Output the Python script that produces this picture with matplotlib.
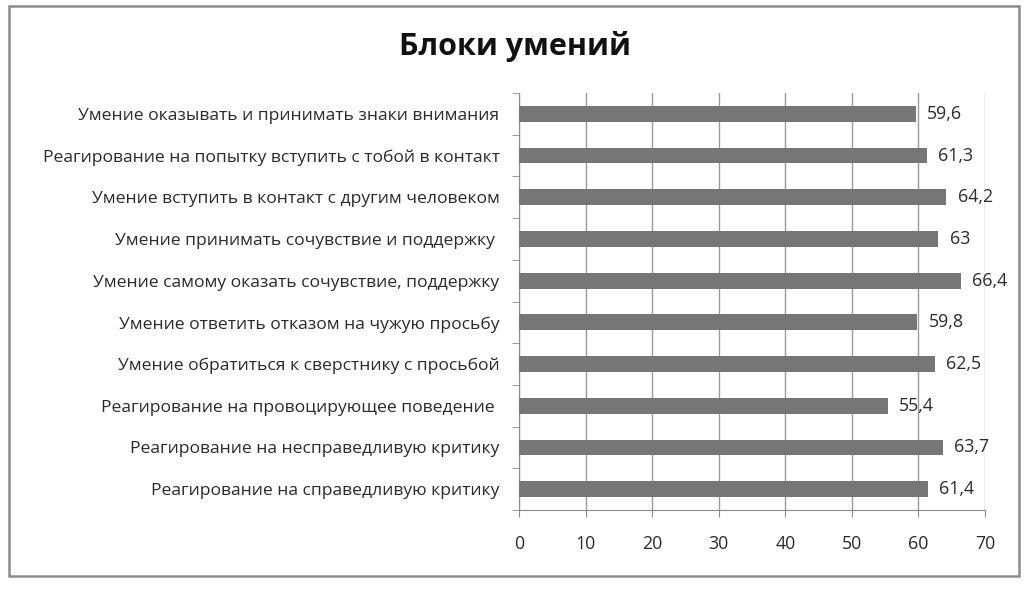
import matplotlib
matplotlib.use("Agg")
import numpy as np
from matplotlib import pyplot as plt
from matplotlib.patches import Rectangle

plt.rcParams['font.family'] = ['Open Sans', 'DejaVu Sans']

# data, top to bottom as in the picture
labels = [
    "Умение оказывать и принимать знаки внимания",
    "Реагирование на попытку вступить с тобой в контакт",
    "Умение вступить в контакт с другим человеком",
    "Умение принимать сочувствие и поддержку ",
    "Умение самому оказать сочувствие, поддержку",
    "Умение ответить отказом на чужую просьбу",
    "Умение обратиться к сверстнику с просьбой",
    "Реагирование на провоцирующее поведение ",
    "Реагирование на несправедливую критику",
    "Реагирование на справедливую критику",
]
values = [59.6, 61.3, 64.2, 63, 66.4, 59.8, 62.5, 55.4, 63.7, 61.4]
xticks = [0, 10, 20, 30, 40, 50, 60, 70]
title = "Блоки умений"

fig = plt.figure(figsize=(10.28, 5.91), dpi=100)
fig.patches.append(Rectangle((0.009, 0.025), 0.982, 0.965, transform=fig.transFigure,
                             fill=False, edgecolor='#8c8c8c', linewidth=1.8))

ax = fig.add_axes([519/1028, 1 - 510/591, (985-519)/1028, (510-93)/591])
y = np.arange(len(labels))
ax.barh(y, values, height=0.38, color='#767676', zorder=3)

for yi, v in zip(y, values):
    txt = f"{v:g}".replace('.', ',')
    ax.text(v + 1.7, yi, txt, va='center', ha='left', fontsize=12.8, color='#2a2a2a')

ax.set_xlim(0, 70)
ax.set_ylim(len(labels) - 0.5, -0.5)
ax.set_xticks(xticks)
ax.set_xticklabels([str(t) for t in xticks], fontsize=12.8, color='#2a2a2a')
ax.set_yticks(y)
ax.set_yticklabels(labels, fontsize=12.6, color='#2a2a2a')
ax.set_yticks(np.arange(-0.5, len(labels), 1), minor=True)
ax.tick_params(axis='y', which='major', length=0, pad=14)
ax.tick_params(axis='y', which='minor', length=5, color='#8c8c8c', direction='out')
ax.tick_params(axis='x', length=5, color='#8c8c8c', pad=13)
ax.grid(axis='x', color='#9a9a9a', linewidth=1, zorder=0)
for s in ['top', 'right']:
    ax.spines[s].set_visible(False)
for s in ['left', 'bottom']:
    ax.spines[s].set_color('#8c8c8c')

fig.text(515/1028, 1 - 47/591, title, ha='center', va='center', fontsize=22,
         fontweight='bold', color='#111111')

fig.savefig("out.png", dpi=100)
